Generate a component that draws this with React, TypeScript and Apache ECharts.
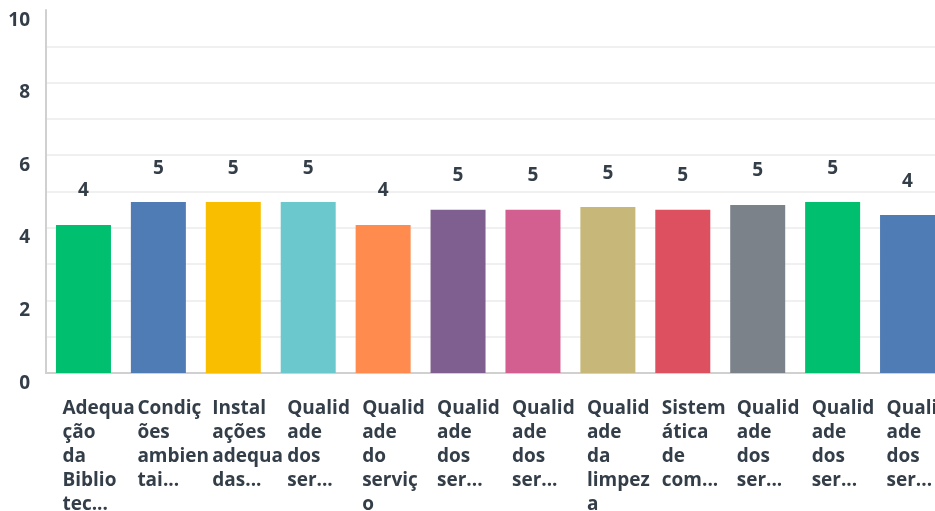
import React, { useEffect, useRef } from "react";
import * as echarts from "echarts";

const categories: string[] = [
  "Adequa\nção\nda\nBiblio\ntec...",
  "Condiç\nões\nambien\ntai...",
  "Instal\nações\nadequa\ndas...",
  "Qualid\nade\ndos\nser...",
  "Qualid\nade\ndo\nserviç\no",
  "Qualid\nade\ndos\nser...",
  "Qualid\nade\ndos\nser...",
  "Qualid\nade\nda\nlimpez\na",
  "Sistem\nática\nde\ncom...",
  "Qualid\nade\ndos\nser...",
  "Qualid\nade\ndos\nser...",
  "Qualid\nade\ndos\nser...",
];

const values: number[] = [4.08, 4.71, 4.71, 4.71, 4.08, 4.5, 4.5, 4.57, 4.5, 4.63, 4.71, 4.35];

const barColors: string[] = [
  "#00bf6f", "#507cb6", "#f9be00", "#6bc8cd", "#ff8b4f", "#7f5f90",
  "#d25f90", "#c7b879", "#dc5060", "#7b8289", "#00bf6f", "#507cb6",
];

const yTicks = { min: 0, max: 10, interval: 1 };

const TEXT = "#333e48";
const FONT = "'Open Sans', sans-serif";

export default function App() {
  const ref = useRef<HTMLDivElement>(null);
  useEffect(() => {
    if (!ref.current) return;
    const chart = echarts.init(ref.current, undefined, { renderer: "svg" });
    chart.setOption({
      animation: false,
      grid: {
        left: 46,
        right: -10,
        top: 10,
        bottom: 138,
        containLabel: false,
        outerBoundsMode: "none",
      },
      xAxis: {
        type: "category",
        data: categories,
        axisLine: { show: true, lineStyle: { color: "#d0d0d0", width: 2 } },
        axisTick: { show: false },
        axisLabel: {
          interval: 0,
          align: "left",
          verticalAlign: "top",
          margin: 22,
          padding: [0, 0, 0, -21],
          color: TEXT,
          fontFamily: FONT,
          fontWeight: 700,
          fontSize: 19,
          lineHeight: 24,
          hideOverlap: false,
        },
      },
      yAxis: {
        type: "value",
        min: yTicks.min,
        max: yTicks.max,
        interval: yTicks.interval,
        axisLine: { show: true, lineStyle: { color: "#d0d0d0", width: 2 } },
        axisTick: { show: false },
        splitLine: { show: true, showMaxLine: false, lineStyle: { color: "#ebebeb", width: 1.5 } },
        axisLabel: {
          margin: 16,
          color: TEXT,
          fontFamily: FONT,
          fontWeight: 700,
          fontSize: 19,
          lineHeight: 17,
          verticalAlign: "top",
          formatter: (v: number) => (v % 2 === 0 ? String(v) : ""),
        },
      },
      series: [
        {
          type: "bar",
          barWidth: 55,
          data: values.map((v, i) => ({ value: v, itemStyle: { color: barColors[i] } })),
          label: {
            show: true,
            position: "top",
            distance: 26,
            color: TEXT,
            fontFamily: FONT,
            fontWeight: 700,
            fontSize: 19,
            formatter: (p: any) => String(Math.round(p.value)),
          },
        },
      ],
    });
    return () => chart.dispose();
  }, []);
  return (
    <div
      ref={ref}
      style={{ position: "fixed", left: 0, top: 0, width: 935, height: 511 }}
    />
  );
}
